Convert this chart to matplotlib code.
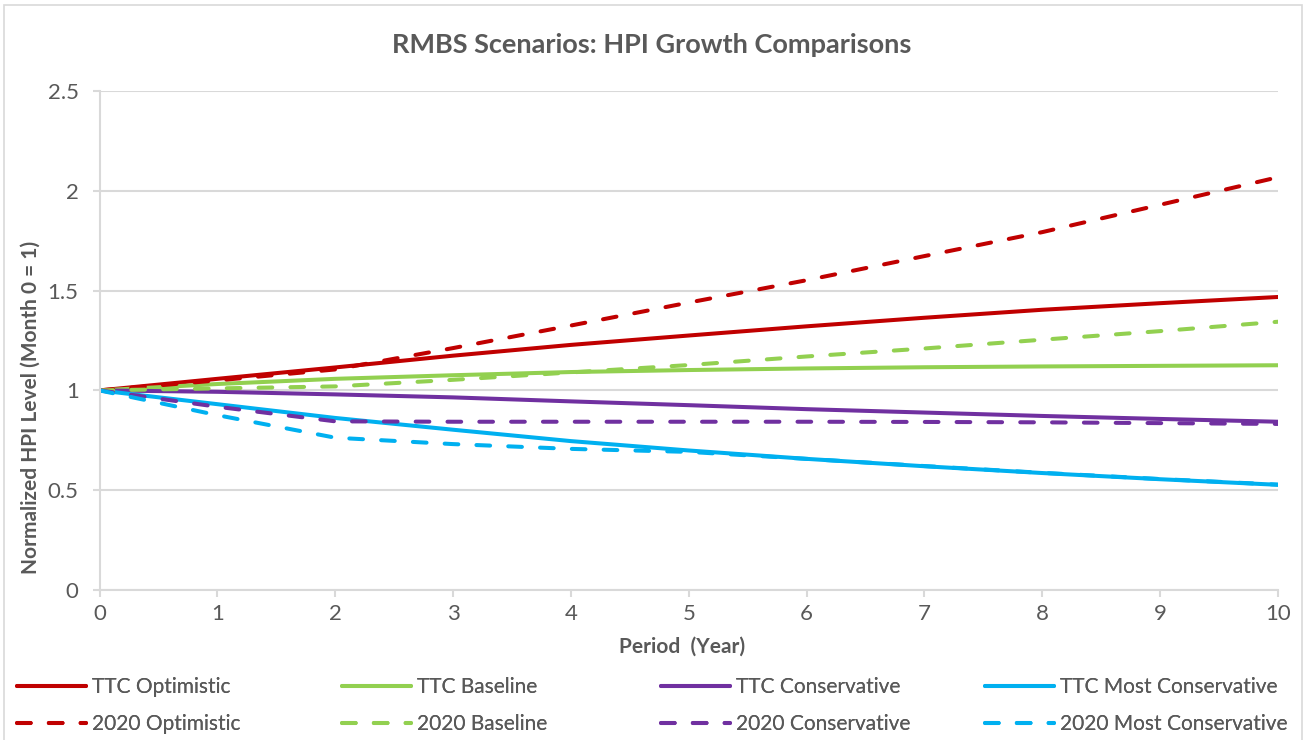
import matplotlib.pyplot as plt
from matplotlib.patches import Rectangle

plt.rcParams['font.family'] = ['Lato', 'DejaVu Sans']

years = list(range(11))

ttc_optimistic = [1.0, 1.058, 1.115, 1.174, 1.228, 1.275, 1.321, 1.364, 1.404, 1.437, 1.468]
ttc_baseline = [1.0, 1.032, 1.058, 1.076, 1.092, 1.102, 1.110, 1.116, 1.120, 1.123, 1.126]
ttc_conservative = [1.0, 0.993, 0.980, 0.965, 0.945, 0.926, 0.906, 0.889, 0.872, 0.857, 0.843]
ttc_most_conservative = [1.0, 0.931, 0.862, 0.803, 0.746, 0.699, 0.657, 0.620, 0.586, 0.555, 0.527]

y2020_optimistic = [1.0, 1.050, 1.105, 1.212, 1.325, 1.440, 1.552, 1.673, 1.793, 1.930, 2.068]
y2020_baseline = [1.0, 1.010, 1.020, 1.053, 1.090, 1.127, 1.170, 1.210, 1.254, 1.297, 1.344]
y2020_conservative = [1.0, 0.918, 0.845, 0.843, 0.843, 0.843, 0.843, 0.842, 0.840, 0.836, 0.832]
y2020_most_conservative = [1.0, 0.876, 0.763, 0.731, 0.707, 0.692, 0.657, 0.621, 0.587, 0.556, 0.528]

y_ticks = [0, 0.5, 1, 1.5, 2, 2.5]
y_tick_labels = ["0", "0.5", "1", "1.5", "2", "2.5"]

series = [
    ("TTC Optimistic", ttc_optimistic, "#C00000", "solid"),
    ("TTC Baseline", ttc_baseline, "#92D050", "solid"),
    ("TTC Conservative", ttc_conservative, "#7030A0", "solid"),
    ("TTC Most Conservative", ttc_most_conservative, "#00B0F0", "solid"),
    ("2020 Optimistic", y2020_optimistic, "#C00000", "dash"),
    ("2020 Baseline", y2020_baseline, "#92D050", "dash"),
    ("2020 Conservative", y2020_conservative, "#7030A0", "dash"),
    ("2020 Most Conservative", y2020_most_conservative, "#00B0F0", "dash"),
]

text_gray = "#595959"
grid_gray = "#D9D9D9"

fig = plt.figure(figsize=(13.07, 7.40), dpi=100)
ax = fig.add_axes([99.5 / 1307, 1 - 590 / 740, (1278 - 99.5) / 1307, (590 - 91) / 740])

handles = {}
for name, vals, color, style in series:
    if style == "solid":
        ln, = ax.plot(years, vals, color=color, lw=2.9, solid_capstyle="round", label=name)
    else:
        ln, = ax.plot(years, vals, color=color, lw=2.9, dashes=[3.4, 4.5],
                      dash_capstyle="round", label=name)
    handles[name] = ln

ax.set_xlim(0, 10)
ax.set_ylim(0, 2.5)
ax.set_xticks(years)
ax.set_yticks(y_ticks)
ax.set_yticklabels(y_tick_labels)
ax.yaxis.grid(True, color=grid_gray, lw=1.5)
ax.set_axisbelow(True)

for s in ["top", "right"]:
    ax.spines[s].set_visible(False)
for s in ["left", "bottom"]:
    ax.spines[s].set_color(grid_gray)
    ax.spines[s].set_linewidth(1.5)
ax.tick_params(axis="both", colors=grid_gray, length=5, width=1.5, labelcolor=text_gray,
               labelsize=16)
ax.tick_params(axis="x", pad=5)
ax.tick_params(axis="y", pad=10)

fig.text(652 / 1307, 1 - 45 / 740, "RMBS Scenarios: HPI Growth Comparisons", fontsize=19.5,
         fontweight="bold", color=text_gray, ha="center", va="center")
ax.set_xlabel("Period  (Year)", fontsize=15, fontweight="bold", color=text_gray)
ax.set_ylabel("Normalized HPI Level (Month 0 = 1)", fontsize=15, fontweight="bold",
              color=text_gray)
ax.xaxis.set_label_coords((682 - 99.5) / 1178.5, -(637 - 590) / 499)
ax.yaxis.set_label_coords((41 - 99.5) / 1178.5, 1 - (407 - 91) / 499)

# legend: four columns placed like the Excel chart
col_x = [17, 342, 661, 985]
col_names = [("TTC Optimistic", "2020 Optimistic"),
             ("TTC Baseline", "2020 Baseline"),
             ("TTC Conservative", "2020 Conservative"),
             ("TTC Most Conservative", "2020 Most Conservative")]
for x, (a, b) in zip(col_x, col_names):
    leg = fig.legend([handles[a], handles[b]], [a, b], loc="upper left",
                     bbox_to_anchor=(x / 1307, 1 - 677 / 740), frameon=False,
                     fontsize=15, handlelength=3.3, handletextpad=0.28, labelspacing=0.82,
                     borderpad=0, borderaxespad=0)
    for t in leg.get_texts():
        t.set_color(text_gray)
    fig.add_artist(leg)

fig.add_artist(Rectangle((4 / 1307, -0.01), 1298 / 1307, 0.01 + 735 / 740,
                         transform=fig.transFigure, fill=False, edgecolor=grid_gray, lw=1.2))

fig.savefig("out.png", dpi=100)
